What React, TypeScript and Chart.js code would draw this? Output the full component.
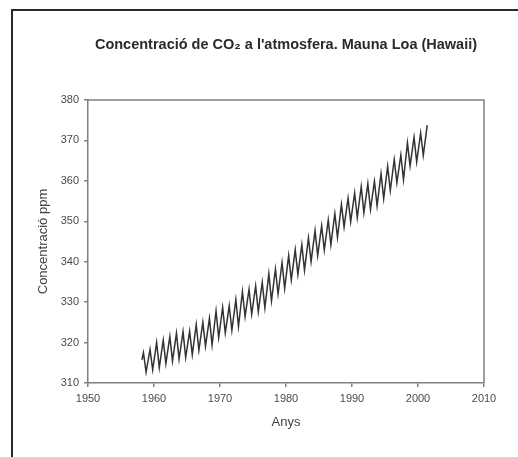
import React, { useEffect, useRef } from "react";
import { Chart, registerables } from "chart.js";

Chart.register(...registerables);

// Mauna Loa CO2 record: seasonal maxima (May) and minima (autumn)
const years = [
  1958, 1959, 1960, 1961, 1962, 1963, 1964, 1965, 1966, 1967, 1968,
  1969, 1970, 1971, 1972, 1973, 1974, 1975, 1976, 1977, 1978, 1979,
  1980, 1981, 1982, 1983, 1984, 1985, 1986, 1987, 1988, 1989, 1990,
  1991, 1992, 1993, 1994, 1995, 1996, 1997, 1998, 1999, 2000, 2001,
];
const peakPpm = [
  317.5, 318.3, 320.0, 320.6, 321.5, 322.3, 322.7, 322.8, 324.5, 325.0, 326.0,
  327.8, 328.7, 329.1, 330.6, 332.6, 333.2, 334.0, 334.9, 337.0, 338.2, 339.8,
  341.5, 343.0, 344.2, 345.9, 347.7, 348.9, 350.3, 351.9, 354.2, 355.7, 357.0,
  358.6, 359.3, 359.9, 361.8, 363.6, 365.3, 366.4, 369.4, 370.8, 371.8, 373.8,
];
const troughPpm = [
  312.7, 313.3, 313.8, 314.8, 315.4, 315.9, 316.3, 317.0, 318.1, 319.1, 319.4,
  321.2, 322.4, 323.0, 324.0, 326.4, 327.0, 327.6, 328.6, 330.3, 332.0, 333.4,
  335.5, 336.8, 337.9, 340.0, 341.5, 342.9, 344.2, 346.0, 348.6, 349.9, 350.9,
  352.1, 352.9, 353.8, 355.6, 357.6, 359.5, 360.3, 363.7, 364.7, 366.3,
];
const firstDate = 1958.17; // March 1958
const firstPpm = 315.7;
const peakOffset = 0.4; // fraction of year for the spring maximum
const troughOffset = 0.8; // fraction of year for the autumn minimum

const xTicks = [1950, 1960, 1970, 1980, 1990, 2000, 2010];
const yTicks = [310, 320, 330, 340, 350, 360, 370, 380];

const titleText = "Concentració de CO₂ a l'atmosfera. Mauna Loa (Hawaii)";
const xTitle = "Anys";
const yTitle = "Concentració ppm";

const FONT = "'Liberation Sans', Arial, sans-serif";

function buildPoints() {
  const pts: { x: number; y: number }[] = [{ x: firstDate, y: firstPpm }];
  years.forEach((yr, i) => {
    pts.push({ x: yr + peakOffset, y: peakPpm[i] });
    if (i < troughPpm.length) pts.push({ x: yr + troughOffset, y: troughPpm[i] });
  });
  return pts;
}

const frameTopRight = {
  id: "frameTopRight",
  afterDraw(chart: any) {
    const { ctx, chartArea } = chart;
    ctx.save();
    ctx.strokeStyle = "#808080";
    ctx.lineWidth = 1.5;
    ctx.beginPath();
    ctx.moveTo(chartArea.left, chartArea.top);
    ctx.lineTo(chartArea.right, chartArea.top);
    ctx.lineTo(chartArea.right, chartArea.bottom);
    ctx.stroke();
    ctx.restore();
  },
};

export default function App() {
  const ref = useRef<HTMLCanvasElement | null>(null);

  useEffect(() => {
    if (!ref.current) return;
    const chart = new Chart(ref.current, {
      type: "scatter",
      data: {
        datasets: [
          {
            data: buildPoints(),
            showLine: true,
            borderColor: "#333333",
            borderWidth: 1.5,
            pointRadius: 0,
            tension: 0,
          },
        ],
      },
      options: {
        animation: false,
        responsive: false,
        maintainAspectRatio: false,
        devicePixelRatio: 1,
        layout: { padding: { top: 0, right: 34, left: 0, bottom: 0 } },
        plugins: {
          legend: { display: false },
          tooltip: { enabled: false },
          title: {
            display: true,
            text: titleText,
            fullSize: false,
            color: "#2a2a2a",
            font: { family: FONT, size: 14.5, weight: "bold" },
            padding: { top: 36.3, bottom: 46.3 },
          },
        },
        scales: {
          x: {
            type: "linear",
            min: 1950,
            max: 2010,
            afterFit: (s: any) => {
              s.height = 74;
            },
            afterBuildTicks: (s: any) => {
              s.ticks = xTicks.map((v) => ({ value: v }));
            },
            ticks: {
              color: "#4a4a4a",
              font: { family: FONT, size: 11 },
              padding: 5,
              maxRotation: 0,
              callback: (v: any) => String(v),
            },
            grid: {
              drawOnChartArea: false,
              drawTicks: true,
              tickLength: 4,
              color: "#808080",
              lineWidth: 1.5,
            },
            border: { display: true, color: "#808080", width: 1.5 },
            title: {
              display: true,
              text: xTitle,
              color: "#444",
              font: { family: FONT, size: 13 },
              padding: { top: 0, bottom: 27 },
            },
          },
          y: {
            type: "linear",
            min: 310,
            max: 380,
            afterFit: (s: any) => {
              s.width = 88;
            },
            afterBuildTicks: (s: any) => {
              s.ticks = yTicks.map((v) => ({ value: v }));
            },
            ticks: {
              color: "#4a4a4a",
              font: { family: FONT, size: 11 },
              padding: 5,
              callback: (v: any) => String(v),
            },
            grid: {
              drawOnChartArea: false,
              drawTicks: true,
              tickLength: 4,
              color: "#808080",
              lineWidth: 1.5,
            },
            border: { display: true, color: "#808080", width: 1.5 },
            title: {
              display: true,
              text: yTitle,
              color: "#444",
              font: { family: FONT, size: 13 },
              padding: { top: 36, bottom: 0 },
            },
          },
        },
      },
      plugins: [frameTopRight],
    });
    return () => chart.destroy();
  }, []);

  return (
    <div
      style={{
        position: "absolute",
        left: 0,
        top: 0,
        width: 518,
        height: 457,
        background: "#fff",
        overflow: "hidden",
      }}
    >
      <div
        style={{
          position: "absolute",
          left: 11,
          top: 9,
          width: 520,
          height: 460,
          borderTop: "2px solid #2a2a2a",
          borderLeft: "2px solid #2a2a2a",
        }}
      />
      <canvas
        ref={ref}
        width={518}
        height={457}
        style={{ position: "absolute", left: 0, top: 0, width: 518, height: 457 }}
      />
    </div>
  );
}
